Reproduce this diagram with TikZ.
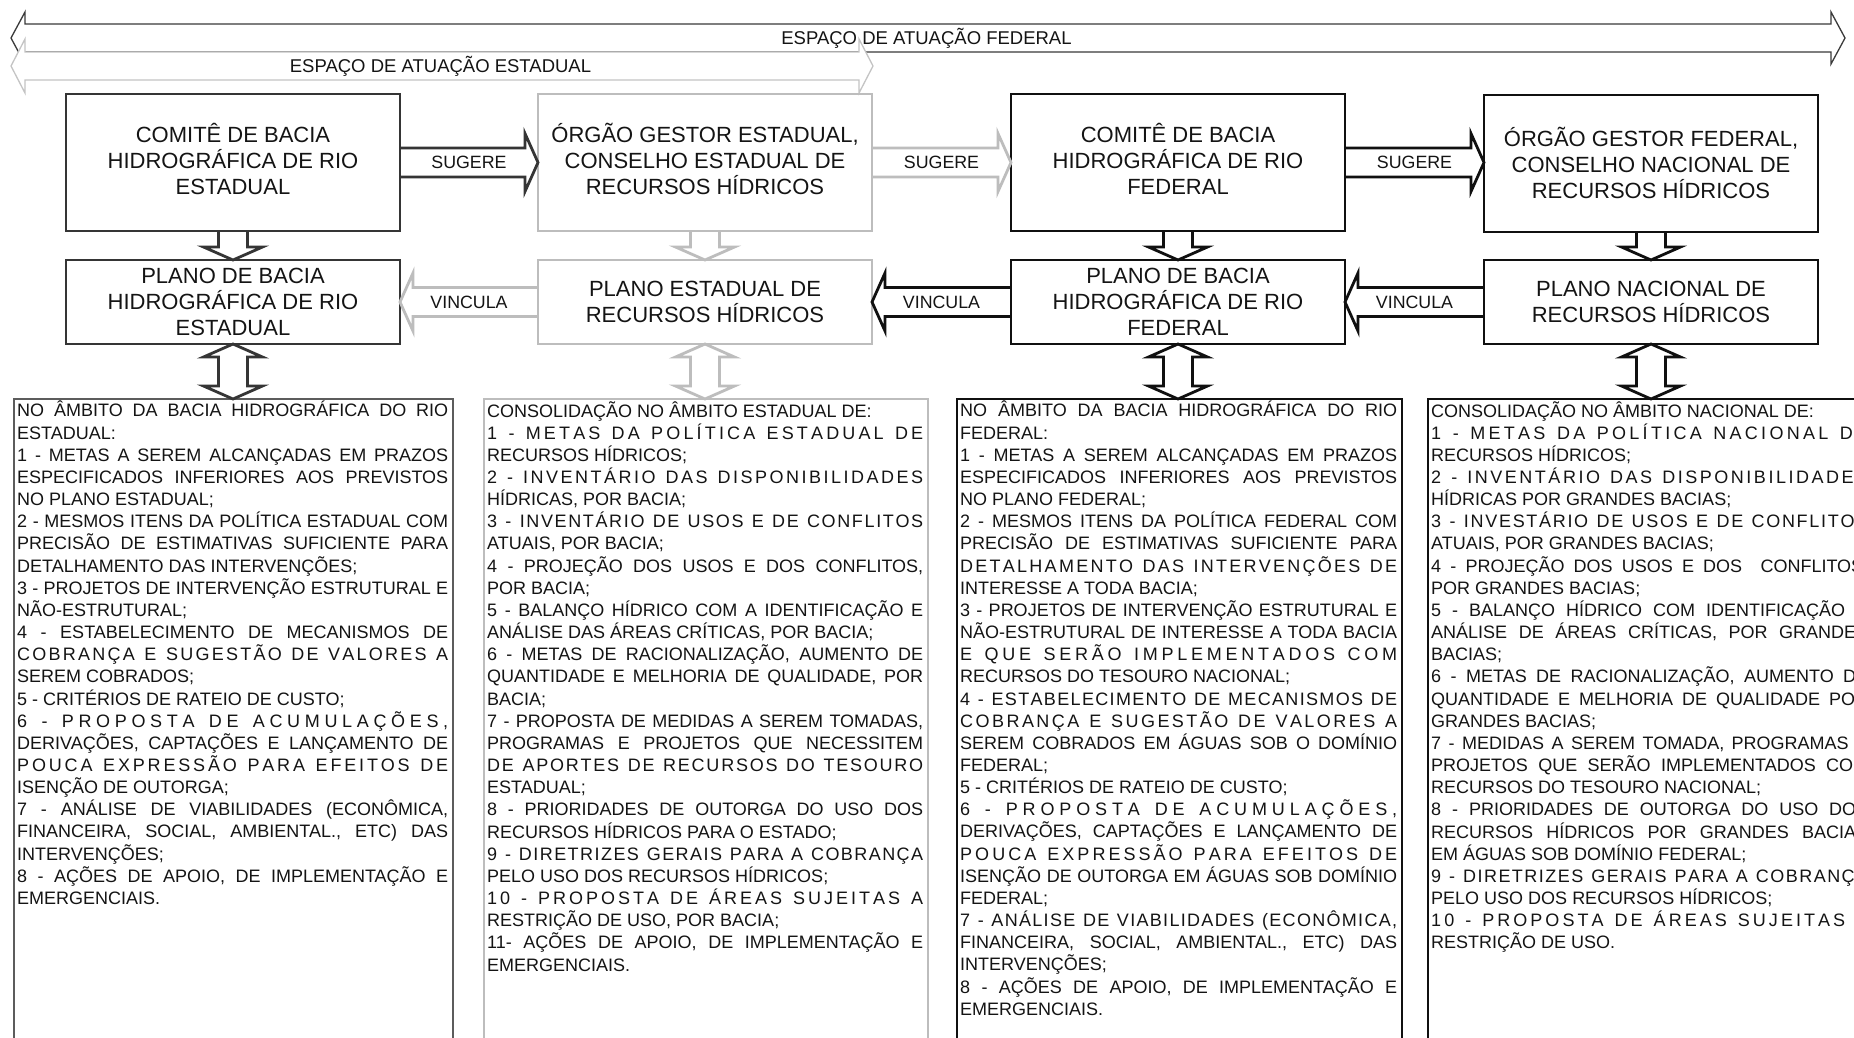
\documentclass[tikz,border=0pt]{standalone}
\usepackage{fontspec}
\setmainfont{Liberation Sans}
\usetikzlibrary{calc}

\definecolor{ink}{HTML}{141414}
\definecolor{colA}{HTML}{353535}   % state basin committee column
\definecolor{colB}{HTML}{BDBDBD}   % state agency column
\definecolor{colC}{HTML}{101010}   % federal columns
\definecolor{frameA}{HTML}{5C5C5C}
\definecolor{bandfed}{HTML}{3A3A3A}
\definecolor{bandest}{HTML}{C4C4C4}

\newcommand\boxfont{\fontsize{22}{26}\selectfont}
\newcommand\lblfont{\fontsize{17.8}{20}\selectfont}
\newcommand\hdrfont{\fontsize{18.5}{21}\selectfont}
\newcommand\bodyfont{\fontsize{18}{22.16}\selectfont}

% one printed line of a list: natural, word-justified, letter-spread
\makeatletter
\newcommand\Lnat[1]{\hbox to\hsize{\strut#1\hfil}}
\newcommand\Ljust[1]{\hbox to\hsize{\spaceskip=.278em plus 1fil minus .08em\relax\strut#1}}
\newcommand\Lspread[1]{\hbox to\hsize{\strut\let\ls@sep\relax\ls@go#1\ls@end}}
\def\ls@end{\ls@end@mark}
\def\ls@go{\futurelet\ls@next\ls@check}
\def\ls@check{%
  \ifx\ls@next\ls@end \let\ls@do\ls@finish
  \else\ifx\ls@next\@sptoken \let\ls@do\ls@space
  \else \let\ls@do\ls@char\fi\fi
  \ls@do}
\def\ls@finish\ls@end{}
\def\ls@char#1{\ls@sep#1\def\ls@sep{\hskip 0pt plus 1fil\relax}\ls@go}
\def\@tempa#1{\def\ls@space#1{\hskip .278em plus 2fil\relax\let\ls@sep\relax\ls@go}}
\@tempa{ }
\makeatother
\newcommand\listbody[2]{\vtop{\hsize=#1\relax\bodyfont\frenchspacing\lineskiplimit=-\maxdimen #2}}

% block-arrow connectors
\newcommand\sugarrow[4]{% colour, source, target, label name
  \draw[blk, draw=#1] let \p1=(#2.east), \p2=(#3.west) in
    (\x1,\y1+14.5pt) -- (\x2-13pt,\y1+14.5pt) -- (\x2-13pt,\y1+29pt) -- (\x2,\y1)
    -- (\x2-13pt,\y1-29pt) -- (\x2-13pt,\y1-14.5pt) -- (\x1,\y1-14.5pt);
  \node[lbl] (#4) at ($(#2.east)!0.5!(#3.west |- #2.east)+(0,6.4)$) {SUGERE};
}
\newcommand\vinarrow[4]{% colour, source, target, label name
  \draw[blk, draw=#1] let \p1=(#2.west), \p2=(#3.east) in
    (\x1,\y1+14.5pt) -- (\x2+13pt,\y1+14.5pt) -- (\x2+13pt,\y1+29pt) -- (\x2,\y1)
    -- (\x2+13pt,\y1-29pt) -- (\x2+13pt,\y1-14.5pt) -- (\x1,\y1-14.5pt);
  \node[lbl] (#4) at ($(#2.west)!0.5!(#3.east |- #2.west)+(0,6.4)$) {VINCULA};
}
\newcommand\downblock[3]{% colour, upper node, lower node
  \draw[blk, draw=#1] let \p1=(#2.south), \p2=(#3.north) in
    (\x1-14.5pt,\y1) -- (\x1-14.5pt,\y2+13pt) -- (\x1-29.5pt,\y2+13pt) -- (\x1,\y2)
    -- (\x1+29.5pt,\y2+13pt) -- (\x1+14.5pt,\y2+13pt) -- (\x1+14.5pt,\y1);
}
\newcommand\twinblock[3]{% colour, upper node, lower node
  \draw[blk, draw=#1] let \p1=(#2.south), \p2=(#3.north) in
    (\x1,\y1) -- (\x1+29.5pt,\y1-13pt) -- (\x1+14.5pt,\y1-13pt) -- (\x1+14.5pt,\y2+13pt)
    -- (\x1+29.5pt,\y2+13pt) -- (\x1,\y2) -- (\x1-29.5pt,\y2+13pt) -- (\x1-14.5pt,\y2+13pt)
    -- (\x1-14.5pt,\y1-13pt) -- (\x1-29.5pt,\y1-13pt) -- cycle;
}

\tikzset{
  hbox/.style={draw, line width=2.8pt, inner sep=0pt, outer sep=0pt, minimum width=334pt,
    align=center, font=\boxfont, text=ink, anchor=north west},
  topbox/.style={hbox, minimum height=137pt, text depth=7pt},
  planbox/.style={hbox, minimum height=84pt},
  listbox/.style={draw, line width=1.3pt, inner sep=0pt, outer sep=0pt, minimum height=680pt, anchor=north west},
  listtext/.style={inner sep=0pt, anchor=north west, text=ink},
  blk/.style={line width=2.8pt, line join=miter},
  lbl/.style={font=\lblfont, text=ink, inner sep=0pt, anchor=base},
  hdr/.style={font=\hdrfont, text=ink, inner sep=0pt, anchor=base},
  band/.style={line width=1.3pt, fill=white, line join=miter},
}

\begin{document}
\begin{tikzpicture}[x=1pt, y=-1pt]
\useasboundingbox (0,0) rectangle (1854,1037);
\clip (0,0) rectangle (1854,1037);
\fill[white] (0,0) rectangle (1854,1037);

% federal and state scope bands
\draw[band, draw=bandfed] (11,38) -- (25,12) -- (25,24) -- (1831,24) -- (1831,12) -- (1845,38)
  -- (1831,64) -- (1831,52) -- (25,52) -- (25,64) -- cycle;
\draw[band, draw=bandest] (11,66) -- (25,39) -- (25,52) -- (859,52) -- (859,39) -- (873,66)
  -- (859,93) -- (859,80) -- (25,80) -- (25,93) -- cycle;
\node[hdr] (estlbl) at (440.5,72.6) {ESPAÇO DE ATUAÇÃO ESTADUAL};
\node[hdr] (fedlbl) at (926.5,44.6) {ESPAÇO DE ATUAÇÃO FEDERAL};

% institutions
\node[topbox, draw=colA] (b1) at (66,94) {COMITÊ DE BACIA\\HIDROGRÁFICA DE RIO\\ESTADUAL};
\node[topbox, draw=colB] (b2) at (538,94) {ÓRGÃO GESTOR ESTADUAL,\\CONSELHO ESTADUAL DE\\RECURSOS HÍDRICOS};
\node[topbox, draw=colC] (b3) at (1011,94) {COMITÊ DE BACIA\\HIDROGRÁFICA DE RIO\\FEDERAL};
\node[topbox, draw=colC, text depth=2pt] (b4) at (1484,95) {ÓRGÃO GESTOR FEDERAL,\\CONSELHO NACIONAL DE\\RECURSOS HÍDRICOS};

% plans
\node[planbox, draw=colA] (p1) at (66,260) {PLANO DE BACIA\\HIDROGRÁFICA DE RIO\\ESTADUAL};
\node[planbox, draw=colB] (p2) at (538,260) {PLANO ESTADUAL DE\\RECURSOS HÍDRICOS};
\node[planbox, draw=colC] (p3) at (1011,260) {PLANO DE BACIA\\HIDROGRÁFICA DE RIO\\FEDERAL};
\node[planbox, draw=colC] (p4) at (1484,260) {PLANO NACIONAL DE\\RECURSOS HÍDRICOS};

% content frames
\node[listbox, draw=frameA, minimum width=439pt] (t1) at (14,399) {};
\node[listbox, draw=colB, minimum width=444pt] (t2) at (484,399) {};
\node[listbox, draw=colC, minimum width=445pt] (t3) at (957,399) {};
\node[listbox, draw=colC, minimum width=446pt] (t4) at (1428,399) {};

% connectors
\sugarrow{colA}{b1}{b2}{sug1}
\sugarrow{colB}{b2}{b3}{sug2}
\sugarrow{colC}{b3}{b4}{sug3}
\vinarrow{colB}{p2}{p1}{vin1}
\vinarrow{colC}{p3}{p2}{vin2}
\vinarrow{colC}{p4}{p3}{vin3}
\downblock{colA}{b1}{p1}
\downblock{colB}{b2}{p2}
\downblock{colC}{b3}{p3}
\downblock{colC}{b4}{p4}
\twinblock{colA}{p1}{t1}
\twinblock{colB}{p2}{t2}
\twinblock{colC}{p3}{t3}
\twinblock{colC}{p4}{t4}

% contents
\node[listtext] (t1body) at ($(t1.north west)+(3,2)$) {\listbody{431pt}{%
\Ljust{NO ÂMBITO DA BACIA HIDROGRÁFICA DO RIO}
\Lnat{ESTADUAL:}
\Ljust{1 - METAS A SEREM ALCANÇADAS EM PRAZOS}
\Ljust{ESPECIFICADOS INFERIORES AOS PREVISTOS}
\Lnat{NO PLANO ESTADUAL;}
\Ljust{2 - MESMOS ITENS DA POLÍTICA ESTADUAL COM}
\Ljust{PRECISÃO DE ESTIMATIVAS SUFICIENTE PARA}
\Lnat{DETALHAMENTO DAS INTERVENÇÕES;}
\Ljust{3 - PROJETOS DE INTERVENÇÃO ESTRUTURAL E}
\Lnat{NÃO-ESTRUTURAL;}
\Ljust{4 - ESTABELECIMENTO DE MECANISMOS DE}
\Lspread{COBRANÇA E SUGESTÃO DE VALORES A}
\Lnat{SEREM COBRADOS;}
\Lnat{5 - CRITÉRIOS DE RATEIO DE CUSTO;}
\Lspread{6 - PROPOSTA DE ACUMULAÇÕES,}
\Ljust{DERIVAÇÕES, CAPTAÇÕES E LANÇAMENTO DE}
\Lspread{POUCA EXPRESSÃO PARA EFEITOS DE}
\Lnat{ISENÇÃO DE OUTORGA;}
\Ljust{7 - ANÁLISE DE VIABILIDADES (ECONÔMICA,}
\Ljust{FINANCEIRA, SOCIAL, AMBIENTAL., ETC) DAS}
\Lnat{INTERVENÇÕES;}
\Ljust{8 - AÇÕES DE APOIO, DE IMPLEMENTAÇÃO E}
\Lnat{EMERGENCIAIS.}}};

\node[listtext] (t2body) at ($(t2.north west)+(3,2)$) {\listbody{436pt}{%
\Lnat{CONSOLIDAÇÃO NO ÂMBITO ESTADUAL DE:}
\Lspread{1 - METAS DA POLÍTICA ESTADUAL DE}
\Lnat{RECURSOS HÍDRICOS;}
\Lspread{2 - INVENTÁRIO DAS DISPONIBILIDADES}
\Lnat{HÍDRICAS, POR BACIA;}
\Lspread{3 - INVENTÁRIO DE USOS E DE CONFLITOS}
\Lnat{ATUAIS, POR BACIA;}
\Ljust{4 - PROJEÇÃO DOS USOS E DOS CONFLITOS,}
\Lnat{POR BACIA;}
\Ljust{5 - BALANÇO HÍDRICO COM A IDENTIFICAÇÃO E}
\Lnat{ANÁLISE DAS ÁREAS CRÍTICAS, POR BACIA;}
\Ljust{6 - METAS DE RACIONALIZAÇÃO, AUMENTO DE}
\Ljust{QUANTIDADE E MELHORIA DE QUALIDADE, POR}
\Lnat{BACIA;}
\Ljust{7 - PROPOSTA DE MEDIDAS A SEREM TOMADAS,}
\Ljust{PROGRAMAS E PROJETOS QUE NECESSITEM}
\Lspread{DE APORTES DE RECURSOS DO TESOURO}
\Lnat{ESTADUAL;}
\Ljust{8 - PRIORIDADES DE OUTORGA DO USO DOS}
\Lnat{RECURSOS HÍDRICOS PARA O ESTADO;}
\Lspread{9 - DIRETRIZES GERAIS PARA A COBRANÇA}
\Lnat{PELO USO DOS RECURSOS HÍDRICOS;}
\Lspread{10 - PROPOSTA DE ÁREAS SUJEITAS A}
\Lnat{RESTRIÇÃO DE USO, POR BACIA;}
\Ljust{11- AÇÕES DE APOIO, DE IMPLEMENTAÇÃO E}
\Lnat{EMERGENCIAIS.}}};

\node[listtext] (t3body) at ($(t3.north west)+(3,2)$) {\listbody{437pt}{%
\Ljust{NO ÂMBITO DA BACIA HIDROGRÁFICA DO RIO}
\Lnat{FEDERAL:}
\Ljust{1 - METAS A SEREM ALCANÇADAS EM PRAZOS}
\Ljust{ESPECIFICADOS INFERIORES AOS PREVISTOS}
\Lnat{NO PLANO FEDERAL;}
\Ljust{2 - MESMOS ITENS DA POLÍTICA FEDERAL COM}
\Ljust{PRECISÃO DE ESTIMATIVAS SUFICIENTE PARA}
\Lspread{DETALHAMENTO DAS INTERVENÇÕES DE}
\Lnat{INTERESSE A TODA BACIA;}
\Ljust{3 - PROJETOS DE INTERVENÇÃO ESTRUTURAL E}
\Ljust{NÃO-ESTRUTURAL DE INTERESSE A TODA BACIA}
\Lspread{E QUE SERÃO IMPLEMENTADOS COM}
\Lnat{RECURSOS DO TESOURO NACIONAL;}
\Lspread{4 - ESTABELECIMENTO DE MECANISMOS DE}
\Lspread{COBRANÇA E SUGESTÃO DE VALORES A}
\Ljust{SEREM COBRADOS EM ÁGUAS SOB O DOMÍNIO}
\Lnat{FEDERAL;}
\Lnat{5 - CRITÉRIOS DE RATEIO DE CUSTO;}
\Lspread{6 - PROPOSTA DE ACUMULAÇÕES,}
\Ljust{DERIVAÇÕES, CAPTAÇÕES E LANÇAMENTO DE}
\Lspread{POUCA EXPRESSÃO PARA EFEITOS DE}
\Ljust{ISENÇÃO DE OUTORGA EM ÁGUAS SOB DOMÍNIO}
\Lnat{FEDERAL;}
\Lspread{7 - ANÁLISE DE VIABILIDADES (ECONÔMICA,}
\Ljust{FINANCEIRA, SOCIAL, AMBIENTAL., ETC) DAS}
\Lnat{INTERVENÇÕES;}
\Ljust{8 - AÇÕES DE APOIO, DE IMPLEMENTAÇÃO E}
\Lnat{EMERGENCIAIS.}}};

\node[listtext] (t4body) at ($(t4.north west)+(3,2)$) {\listbody{437pt}{%
\Lnat{CONSOLIDAÇÃO NO ÂMBITO NACIONAL DE:}
\Lspread{1 - METAS DA POLÍTICA NACIONAL DE}
\Lnat{RECURSOS HÍDRICOS;}
\Lspread{2 - INVENTÁRIO DAS DISPONIBILIDADES}
\Lnat{HÍDRICAS POR GRANDES BACIAS;}
\Lspread{3 - INVESTÁRIO DE USOS E DE CONFLITOS}
\Lnat{ATUAIS, POR GRANDES BACIAS;}
\Ljust{4 - PROJEÇÃO DOS USOS E DOS\ \ CONFLITOS,}
\Lnat{POR GRANDES BACIAS;}
\Ljust{5 - BALANÇO HÍDRICO COM IDENTIFICAÇÃO E}
\Ljust{ANÁLISE DE ÁREAS CRÍTICAS, POR GRANDES}
\Lnat{BACIAS;}
\Ljust{6 - METAS DE RACIONALIZAÇÃO, AUMENTO DE}
\Ljust{QUANTIDADE E MELHORIA DE QUALIDADE POR}
\Lnat{GRANDES BACIAS;}
\Ljust{7 - MEDIDAS A SEREM TOMADA, PROGRAMAS E}
\Ljust{PROJETOS QUE SERÃO IMPLEMENTADOS COM}
\Lnat{RECURSOS DO TESOURO NACIONAL;}
\Ljust{8 - PRIORIDADES DE OUTORGA DO USO DOS}
\Ljust{RECURSOS HÍDRICOS POR GRANDES BACIAS}
\Lnat{EM ÁGUAS SOB DOMÍNIO FEDERAL;}
\Lspread{9 - DIRETRIZES GERAIS PARA A COBRANÇA}
\Lnat{PELO USO DOS RECURSOS HÍDRICOS;}
\Lspread{10 - PROPOSTA DE ÁREAS SUJEITAS A}
\Lnat{RESTRIÇÃO DE USO.}}};

\end{tikzpicture}
\end{document}
